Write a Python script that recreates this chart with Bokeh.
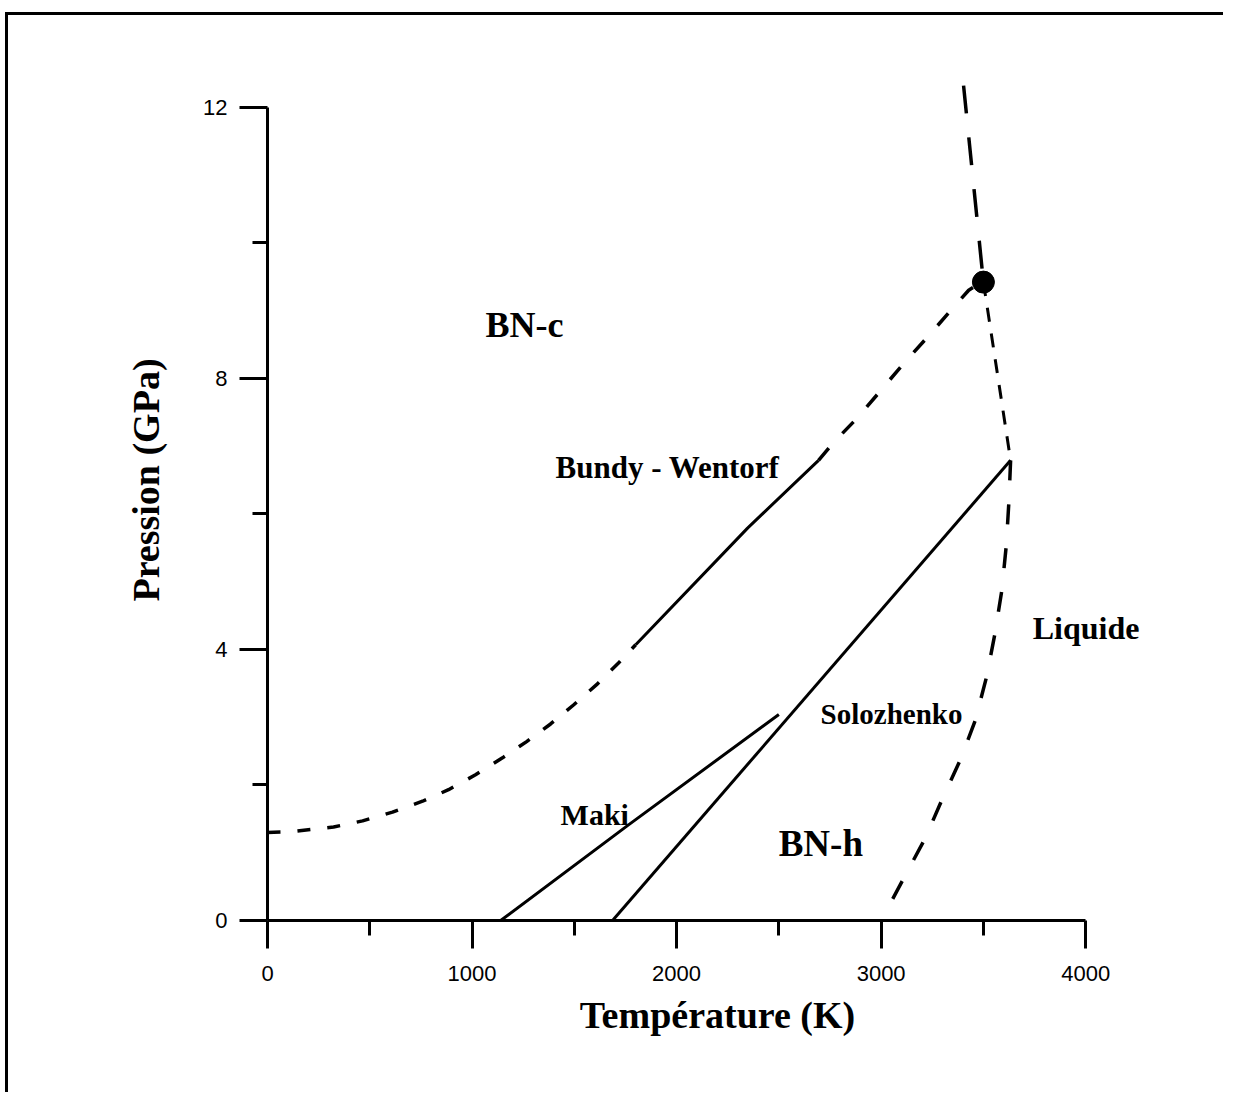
from bokeh.plotting import figure
from bokeh.models import FixedTicker, Range1d, ColumnDataSource
from bokeh.core.properties import value
from bokeh.embed import file_html
from bokeh.resources import INLINE

# ---- data (Temperature K, Pressure GPa) ----
bw_low_T = [0, 112, 323, 465, 611, 758, 885, 1017, 1149, 1267, 1384, 1496, 1609, 1716, 1800]
bw_low_P = [1.30, 1.31, 1.38, 1.47, 1.60, 1.76, 1.93, 2.15, 2.40, 2.64, 2.90, 3.18, 3.48, 3.80, 4.07]
bw_mid_T = [1800, 2347, 2694]
bw_mid_P = [4.07, 5.79, 6.79]
bw_high_T = [2694, 2763, 2885, 2998, 3110, 3227, 3340, 3428, 3480]
bw_high_P = [6.79, 7.04, 7.42, 7.82, 8.22, 8.61, 9.00, 9.30, 9.40]

liq_top_T = [3403, 3500]
liq_top_P = [12.32, 9.42]
liq_mid_T = [3500, 3633]
liq_mid_P = [9.42, 6.79]
liq_low_T = [3633, 3625, 3612, 3590, 3555, 3515, 3460, 3390, 3300, 3215, 3110, 3000]
liq_low_P = [6.79, 6.20, 5.54, 4.87, 4.21, 3.59, 2.95, 2.39, 1.80, 1.21, 0.62, 0.00]

solo_T = [1687, 3633]
solo_P = [0.0, 6.79]
maki_T = [1140, 1760, 2500]
maki_P = [0.0, 1.40, 3.04]

triple_T = [3500]
triple_P = [9.42]

x_ticks = [0, 1000, 2000, 3000, 4000]
x_minor = [500, 1500, 2500, 3500]
y_ticks = [0, 4, 8, 12]
y_minor = [2, 6, 10]

labels = ["BN-c", "Bundy - Wentorf", "Liquide", "Solozhenko", "Maki", "BN-h"]
label_T = [1066, 1408, 3741, 2704, 1433, 2499]
label_P = [8.79, 6.68, 4.31, 3.04, 1.56, 1.14]
label_size = ["36px", "31px", "32px", "29px", "30px", "37px"]

p = figure(width=1218, height=1080, output_backend="svg", toolbar_location=None,
           x_range=Range1d(0, 4400), y_range=Range1d(0, 13),
           min_border_left=259, min_border_right=59, min_border_top=24,
           min_border_bottom=175)
p.styles = {"border-left": "3px solid black", "border-top": "3px solid black",
            "margin-top": "12px", "margin-left": "5px"}
p.grid.visible = False
p.outline_line_color = None
p.background_fill_color = "white"
p.border_fill_color = "white"

for ax in (p.xaxis[0], p.yaxis[0]):
    ax.axis_line_width = 3
    ax.axis_line_color = "black"
    ax.major_tick_line_width = 3
    ax.minor_tick_line_width = 3
    ax.major_tick_line_color = "black"
    ax.minor_tick_line_color = "black"
    ax.major_tick_in = 0
    ax.minor_tick_in = 0
    ax.major_tick_out = 28
    ax.minor_tick_out = 15
    ax.major_label_text_font = "Liberation Sans"
    ax.major_label_text_font_size = "22px"
    ax.major_label_text_color = "black"
    ax.axis_label_text_font = "Liberation Serif"
    ax.axis_label_text_font_style = "bold"
    ax.axis_label_text_font_size = "38px"
    ax.axis_label_text_color = "black"

p.xaxis.bounds = (0, 4000)
p.yaxis.bounds = (0, 12)
p.xaxis.ticker = FixedTicker(ticks=x_ticks, minor_ticks=x_minor)
p.yaxis.ticker = FixedTicker(ticks=y_ticks, minor_ticks=y_minor)
p.xaxis.axis_label = "Température (K)"
p.yaxis.axis_label = "Pression (GPa)"
p.xaxis.major_label_standoff = 17
p.yaxis.major_label_standoff = 12
p.xaxis.axis_label_standoff = 10
p.yaxis.axis_label_standoff = 33

lw = 3.5
p.line(bw_low_T, bw_low_P, line_width=lw, color="black", line_dash="13 17")
p.line(bw_mid_T, bw_mid_P, line_width=3, color="black")
p.line(bw_high_T, bw_high_P, line_width=lw, color="black", line_dash="16 20")
p.line(liq_top_T, liq_top_P, line_width=lw, color="black", line_dash="28 24")
p.line(liq_mid_T, liq_mid_P, line_width=3, color="black", line_dash="14 12")
p.line(liq_low_T, liq_low_P, line_width=lw, color="black", line_dash="20 24")
p.line(solo_T, solo_P, line_width=3, color="black")
p.line(maki_T, maki_P, line_width=3, color="black")
p.scatter(triple_T, triple_P, size=22, color="black")

src = ColumnDataSource(dict(x=label_T, y=label_P, t=labels, s=label_size))
p.text(x="x", y="y", text="t", source=src, text_font=value("Liberation Serif"),
       text_font_style="bold", text_font_size="s", text_align="left",
       text_baseline="alphabetic", text_color="black")

open("out.html", "w").write(file_html(p, INLINE))
